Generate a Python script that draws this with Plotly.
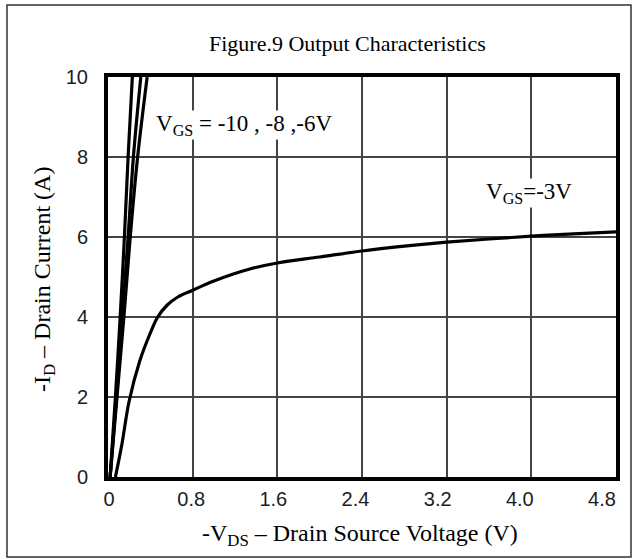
import plotly.graph_objects as go

# ---- data ----
vds_3 = [0.07, 0.13, 0.20, 0.30, 0.40, 0.47, 0.56, 0.66, 0.80, 1.00, 1.34, 1.60, 2.00, 2.40, 2.80, 3.20, 3.60, 4.00, 4.40, 4.80]
id_3 = [0.0, 0.8, 1.9, 2.9, 3.6, 4.0, 4.3, 4.5, 4.67, 4.9, 5.2, 5.35, 5.5, 5.65, 5.77, 5.87, 5.95, 6.02, 6.08, 6.13]

vds_10 = [0.02, 0.07, 0.115, 0.155, 0.19, 0.23]
id_10 = [0.0, 2.0, 4.0, 6.0, 8.0, 10.0]
vds_8 = [0.02, 0.08, 0.135, 0.19, 0.24, 0.31]
id_8 = [0.0, 2.0, 4.0, 6.0, 8.0, 10.0]
vds_6 = [0.02, 0.085, 0.15, 0.21, 0.28, 0.37]
id_6 = [0.0, 2.0, 4.0, 6.0, 8.0, 10.0]

x_ticks = [0, 0.8, 1.6, 2.4, 3.2, 4.0, 4.8]
x_tick_text = ["0", "0.8", "1.6", "2.4", "3.2", "4.0", "4.8"]
y_ticks = [0, 2, 4, 6, 8, 10]
y_tick_text = ["0", "2", "4", "6", "8", "10"]

SERIF = "Liberation Serif, Times New Roman, serif"
SANS = "Liberation Sans, Arial, sans-serif"

W, H = 635, 559
L, R, T, B = 108, 19, 77, 82
PW, PH = W - L - R, H - T - B


def px(x):
    return (x - L) / PW


def py(y):
    return (H - B - y) / PH


# tick labels in the reference sit on a slightly narrower scale than the grid
lab_left, lab_right = 109, 602
lab_scale = (lab_right - lab_left) / 4.8
lab_range = [(L - lab_left) / lab_scale, (W - R - lab_left) / lab_scale]

fig = go.Figure()
line_style = dict(color="black", width=3.2)
for xs, ys in [(vds_10, id_10), (vds_8, id_8), (vds_6, id_6), (vds_3, id_3)]:
    fig.add_trace(go.Scatter(x=xs, y=ys, mode="lines", line=dict(line_style, shape="spline"),
                             showlegend=False, hoverinfo="skip"))
# invisible carrier so the label axis is drawn
fig.add_trace(go.Scatter(x=[x_ticks[1]], y=[y_ticks[1]], xaxis="x2", mode="markers",
                         marker=dict(opacity=0, size=1), showlegend=False, hoverinfo="skip"))

tickfont = dict(family=SANS, size=20, color="#1c1c24")
axis_common = dict(showline=True, linewidth=4, linecolor="black", mirror=True,
                   showgrid=True, gridcolor="#444", gridwidth=1.5, zeroline=False,
                   ticks="", tickfont=tickfont)

fig.update_layout(
    width=W, height=H,
    margin=dict(l=L, r=R, t=T, b=B, autoexpand=False),
    paper_bgcolor="white", plot_bgcolor="white",
    xaxis=dict(axis_common, range=[0, 4.8], tickvals=x_ticks, showticklabels=False),
    xaxis2=dict(overlaying="x", anchor="y", side="bottom", range=lab_range,
                tickvals=x_ticks, ticktext=x_tick_text, showgrid=False, zeroline=False,
                showline=False, ticks="", tickfont=tickfont, ticklabelstandoff=8),
    yaxis=dict(axis_common, range=[0, 10], tickvals=y_ticks, ticktext=y_tick_text,
               ticklabelstandoff=12),
    shapes=[dict(type="rect", xref="paper", yref="paper",
                 x0=px(7), x1=px(631), y0=py(557), y1=py(5),
                 line=dict(color="#333", width=1.5), layer="below")],
    annotations=[
        dict(text="Figure.9 Output Characteristics", xref="paper", yref="paper",
             x=px(347), y=py(43), showarrow=False, xanchor="center", yanchor="middle",
             font=dict(family=SERIF, size=22, color="black")),
        dict(text="-I<sub>D</sub> – Drain Current (A)", xref="paper", yref="paper",
             x=px(44), y=py(280), showarrow=False, textangle=-90,
             xanchor="center", yanchor="middle",
             font=dict(family=SERIF, size=24, color="black")),
        dict(text="-V<sub>DS</sub> – Drain Source Voltage (V)", xref="paper", yref="paper",
             x=px(360), y=py(535), showarrow=False, xanchor="center", yanchor="middle",
             font=dict(family=SERIF, size=24, color="black")),
        dict(text="V<sub>GS</sub> = -10 , -8 ,-6V", xref="x", yref="y",
             x=0.44, y=8.8, showarrow=False, xanchor="left", yanchor="middle",
             bgcolor="white", borderpad=0,
             font=dict(family=SERIF, size=23, color="black")),
        dict(text="V<sub>GS</sub>=-3V", xref="x", yref="y",
             x=3.56, y=7.1, showarrow=False, xanchor="left", yanchor="middle",
             bgcolor="white", borderpad=0,
             font=dict(family=SERIF, size=23, color="black")),
    ],
)

fig.write_html("out.html")
